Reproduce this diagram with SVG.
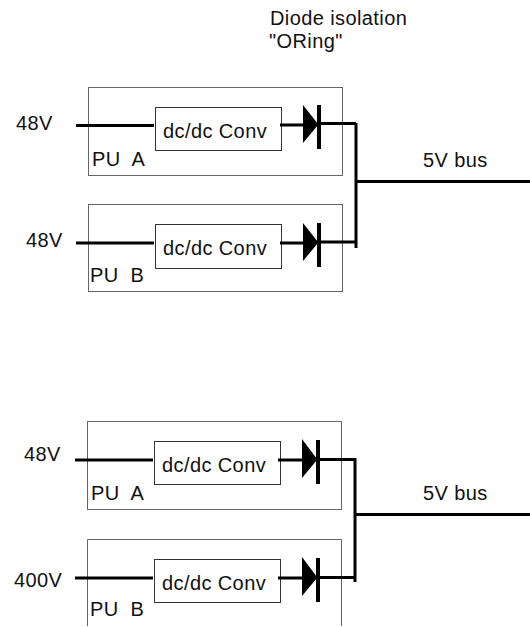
<svg xmlns="http://www.w3.org/2000/svg" width="530" height="627" viewBox="0 0 530 627">
<style>
text{font-family:"Liberation Sans",Arial,sans-serif;font-size:20px;letter-spacing:.4px;fill:#111;white-space:pre}
.outer{fill:#fff;stroke:#666;stroke-width:1}
.conv{fill:#fff;stroke:#333;stroke-width:1}
.w{fill:none;stroke:#000;stroke-width:3}
.bar{fill:none;stroke:#000;stroke-width:4}
</style>
<rect width="530" height="627" fill="#fff"/>
<text x="270" y="25">Diode isolation</text>
<text x="269" y="48">"ORing"</text>
<text x="423" y="167">5V bus</text>
<text x="423" y="500">5V bus</text>
<g id="pu-a-top"><rect class="outer" x="88.5" y="87.5" width="254" height="88"/><text x="92" y="166">PU  A</text></g>
<g id="pu-b-top"><rect class="outer" x="88.5" y="204.500" width="254" height="87"/><text x="90" y="282">PU  B</text></g>
<g id="pu-a-bot"><rect class="outer" x="87.5" y="421.5" width="254" height="88"/><text x="91" y="500">PU  A</text></g>
<g id="pu-b-bot"><path class="outer" d="M87.5 626V539.5H341.5V626"/><text x="90" y="616">PU  B</text></g>
<g id="conv-a-top"><rect class="conv" x="155.5" y="107.5" width="126" height="43"/><text x="163" y="138">dc/dc Conv</text></g>
<g id="conv-b-top"><rect class="conv" x="155.5" y="224.5" width="126" height="44"/><text x="163" y="255">dc/dc Conv</text></g>
<g id="conv-a-bot"><rect class="conv" x="154.5" y="441.5" width="126" height="43"/><text x="162" y="472">dc/dc Conv</text></g>
<g id="conv-b-bot"><rect class="conv" x="154.5" y="559.5" width="126" height="43"/><text x="162" y="590">dc/dc Conv</text></g>
<g id="labels-in">
<text x="16" y="130">48V</text>
<text x="26" y="247">48V</text>
<text x="24" y="461">48V</text>
<text x="14" y="587">400V</text>
</g>
<g id="connectors">
<path class="w" d="M76 125.500H154M280 125H303M319 123.500H356M76 243H154M280 243H303M319 242H356M356 123V248M356 181.500H530"/>
<path class="w" d="M75 460H153M278 460H302M318 459.500H355M75 578H153M278 578H302M318 577.500H355M355 458V582M355 514.500H530"/>
<g id="diodes">
<path d="M303 105L318 124V125L303 143Z"/><path class="bar" d="M319 105V149"/>
<path d="M303 223L318 242V243L303 261Z"/><path class="bar" d="M319 223V267"/>
<path d="M302 439L317 459V460L302 478Z"/><path class="bar" d="M318 440V484"/>
<path d="M302 557L317 577V578L302 596Z"/><path class="bar" d="M318 558V602"/>
</g>
</g>
</svg>
